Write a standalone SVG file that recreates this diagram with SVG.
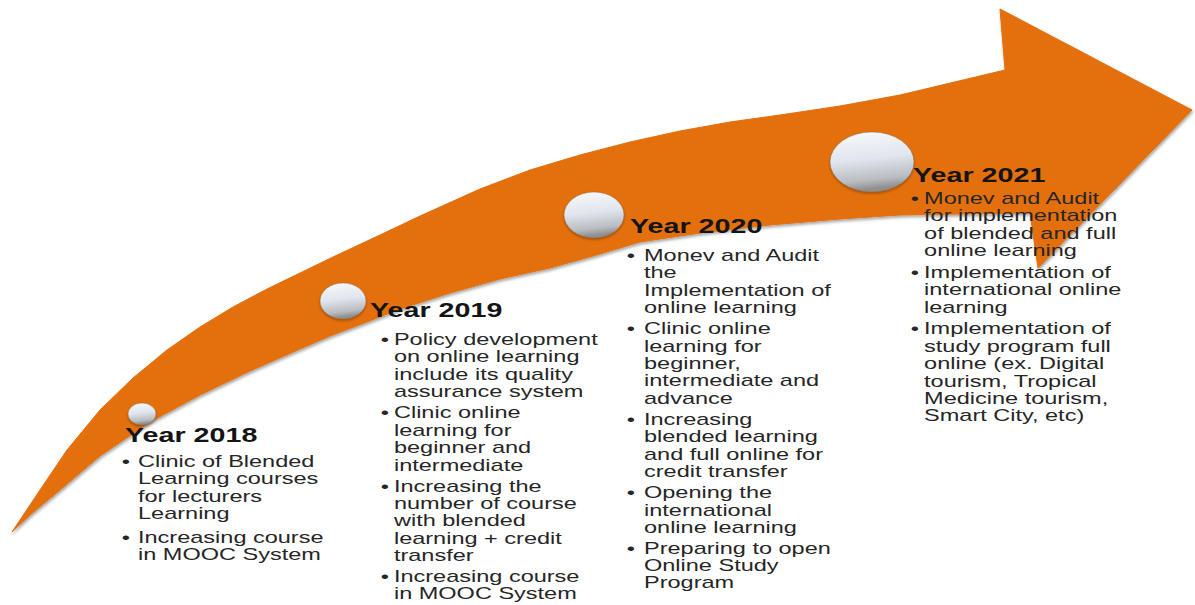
<svg xmlns="http://www.w3.org/2000/svg" width="1195" height="605" viewBox="0 0 1195 605">
  <defs>
    <linearGradient id="ball" x1="0" y1="0" x2="0.15" y2="1">
      <stop offset="0" stop-color="#f8f9fb"/>
      <stop offset="0.5" stop-color="#e0e6ee"/>
      <stop offset="0.85" stop-color="#b9bcc0"/>
      <stop offset="1" stop-color="#8f8f8f"/>
    </linearGradient>
    <filter id="shadow" x="-5%" y="-5%" width="110%" height="115%">
      <feDropShadow dx="1" dy="2" stdDeviation="1.5" flood-color="#000" flood-opacity="0.35"/>
    </filter>
    <filter id="ballshadow" x="-20%" y="-20%" width="140%" height="150%">
      <feDropShadow dx="0" dy="1.5" stdDeviation="1" flood-color="#5a2a00" flood-opacity="0.5"/>
    </filter>
    <style>
      .arrow { fill: #e46f0e; stroke: #e46f0e; stroke-width: 1; stroke-linejoin: round; }
      .ball { fill: url(#ball); stroke: #9a6a40; stroke-width: 0.8; stroke-opacity: 0.6; }
      .head { font-family: "Liberation Sans", Arial, sans-serif; font-weight: bold; font-size: 20.5px; fill: #141414; }
      .body { font-family: "Liberation Sans", Arial, sans-serif; font-size: 16.8px; fill: #262626; }
      .bul { text-anchor: middle; }
    </style>
  </defs>
  <rect width="1195" height="605" fill="#ffffff"/>

  <g id="arrow" filter="url(#shadow)">
    <path class="arrow" d="M12,532 L40,490 L67,450 L100,410 L133,378 L167,350 L200,327 L233,307 L267,289 L300,273 L333,257 L380,235 L420,216 L480,189 L530,170 L580,155 L630,142 L680,131 L730,122 L780,115 L840,106 L900,95 L1005,70 L1000,9 L1192,110 L1038,268 L1030,213 L960,214 L900,215 L840,219 L770,225 L700,233 L640,242 L593,256 L550,268 L500,279 L450,293 L400,309 L367,322 L330,336 L300,349 L250,371 L200,395 L150,422 L100,456 L60,490 L30,515 Z"/>
  </g>

  <g id="connectors"></g>

  <g id="year-2018">
    <ellipse class="ball" cx="142" cy="414" rx="14" ry="11" filter="url(#ballshadow)"/>
    <g transform="translate(125,0) scale(1.4,1)">
      <text class="head" x="0" y="442">Year 2018</text>
      <text class="body">
        <tspan class="bul" x="0.7" y="467">•</tspan><tspan x="9.3" y="467">Clinic of Blended</tspan>
        <tspan x="9.3" y="484.5">Learning courses</tspan>
        <tspan x="9.3" y="502">for lecturers</tspan>
        <tspan x="9.3" y="519.5">Learning</tspan>
        <tspan class="bul" x="0.7" y="543">•</tspan><tspan x="9.3" y="543">Increasing course</tspan>
        <tspan x="9.3" y="560.5">in MOOC System</tspan>
      </text>
    </g>
  </g>

  <g id="year-2019">
    <ellipse class="ball" cx="343" cy="301" rx="23" ry="18" filter="url(#ballshadow)"/>
    <g transform="translate(370,0) scale(1.4,1)">
      <text class="head" x="0" y="317">Year 2019</text>
      <text class="body">
        <tspan class="bul" x="10.7" y="345">•</tspan><tspan x="17.1" y="345">Policy development</tspan>
        <tspan x="17.1" y="362.5">on online learning</tspan>
        <tspan x="17.1" y="380">include its quality</tspan>
        <tspan x="17.1" y="397.5">assurance system</tspan>
        <tspan class="bul" x="10.7" y="418.5">•</tspan><tspan x="17.1" y="418.5">Clinic online</tspan>
        <tspan x="17.1" y="436">learning for</tspan>
        <tspan x="17.1" y="453.5">beginner and</tspan>
        <tspan x="17.1" y="471">intermediate</tspan>
        <tspan class="bul" x="10.7" y="492">•</tspan><tspan x="17.1" y="492">Increasing the</tspan>
        <tspan x="17.1" y="509">number of course</tspan>
        <tspan x="17.1" y="526.5">with blended</tspan>
        <tspan x="17.1" y="544">learning + credit</tspan>
        <tspan x="17.1" y="561">transfer</tspan>
        <tspan class="bul" x="10.7" y="582">•</tspan><tspan x="17.1" y="582">Increasing course</tspan>
        <tspan x="17.1" y="599">in MOOC System</tspan>
      </text>
    </g>
  </g>

  <g id="year-2020">
    <ellipse class="ball" cx="594" cy="215" rx="30" ry="23" filter="url(#ballshadow)"/>
    <g transform="translate(630,0) scale(1.4,1)">
      <text class="head" x="0" y="233">Year 2020</text>
      <text class="body">
        <tspan class="bul" x="0.7" y="261">•</tspan><tspan x="10" y="261">Monev and Audit</tspan>
        <tspan x="10" y="278.5">the</tspan>
        <tspan x="10" y="296">Implementation of</tspan>
        <tspan x="10" y="313">online learning</tspan>
        <tspan class="bul" x="0.7" y="334.5">•</tspan><tspan x="10" y="334.5">Clinic online</tspan>
        <tspan x="10" y="352">learning for</tspan>
        <tspan x="10" y="369">beginner,</tspan>
        <tspan x="10" y="386.5">intermediate and</tspan>
        <tspan x="10" y="404">advance</tspan>
        <tspan class="bul" x="0.7" y="425">•</tspan><tspan x="10" y="425">Increasing</tspan>
        <tspan x="10" y="442.5">blended learning</tspan>
        <tspan x="10" y="460">and full online for</tspan>
        <tspan x="10" y="477.5">credit transfer</tspan>
        <tspan class="bul" x="0.7" y="498.5">•</tspan><tspan x="10" y="498.5">Opening the</tspan>
        <tspan x="10" y="516">international</tspan>
        <tspan x="10" y="533">online learning</tspan>
        <tspan class="bul" x="0.7" y="554.5">•</tspan><tspan x="10" y="554.5">Preparing to open</tspan>
        <tspan x="10" y="571.5">Online Study</tspan>
        <tspan x="10" y="588.5">Program</tspan>
      </text>
    </g>
  </g>

  <g id="year-2021">
    <ellipse class="ball" cx="872" cy="162" rx="42" ry="30" filter="url(#ballshadow)"/>
    <g transform="translate(913,0) scale(1.4,1)">
      <text class="head" x="0" y="182">Year 2021</text>
      <text class="body">
        <tspan class="bul" x="1.4" y="204">•</tspan><tspan x="7.9" y="204">Monev and Audit</tspan>
        <tspan x="7.9" y="221.5">for implementation</tspan>
        <tspan x="7.9" y="239">of blended and full</tspan>
        <tspan x="7.9" y="256.5">online learning</tspan>
        <tspan class="bul" x="1.4" y="278">•</tspan><tspan x="7.9" y="278">Implementation of</tspan>
        <tspan x="7.9" y="295.5">international online</tspan>
        <tspan x="7.9" y="313">learning</tspan>
        <tspan class="bul" x="1.4" y="334.5">•</tspan><tspan x="7.9" y="334.5">Implementation of</tspan>
        <tspan x="7.9" y="352">study program full</tspan>
        <tspan x="7.9" y="369.5">online (ex. Digital</tspan>
        <tspan x="7.9" y="387">tourism, Tropical</tspan>
        <tspan x="7.9" y="404">Medicine tourism,</tspan>
        <tspan x="7.9" y="421.5">Smart City, etc)</tspan>
      </text>
    </g>
  </g>
</svg>
